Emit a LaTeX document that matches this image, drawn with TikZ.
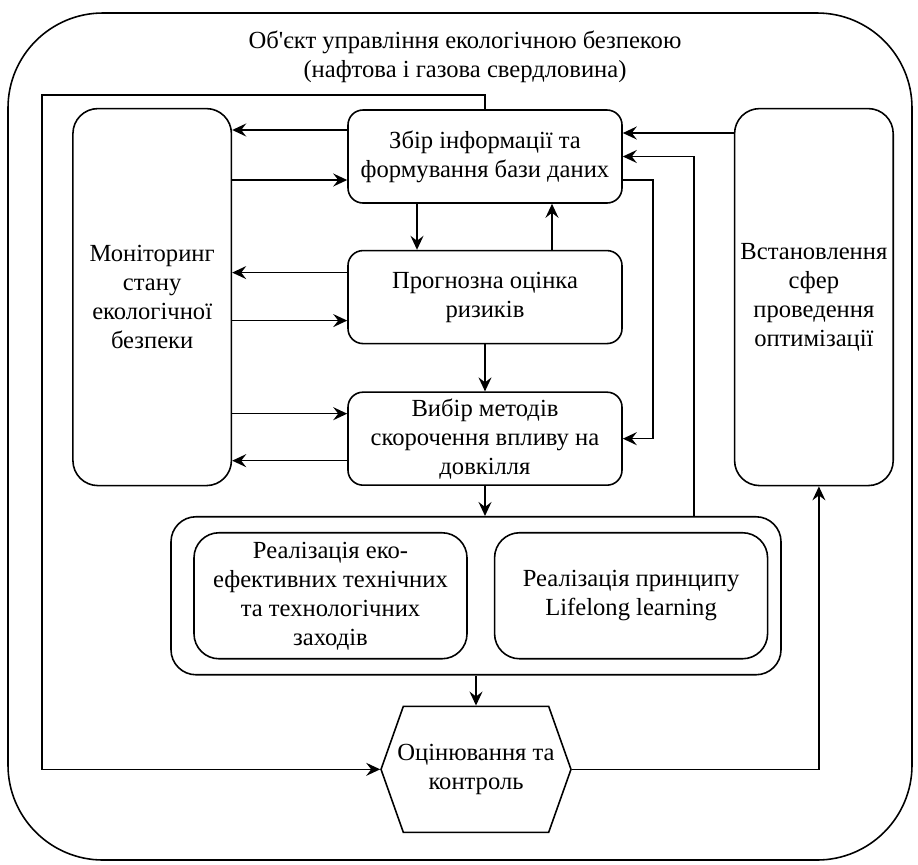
\documentclass[tikz,border=0pt]{standalone}
\usepackage{fontspec}
\setmainfont{Liberation Serif}
\usepackage{tikz}
\usetikzlibrary{shapes.symbols,arrows.meta}
\usetikzlibrary{positioning}
\tikzstyle{arrow} = [line width=0.9pt,->,>={Stealth[length=2.8mm,width=2.6mm,inset=1mm]}]
\tikzstyle{stage} = [
    rectangle, rounded corners=0.3cm, minimum width=5.48cm, minimum height=1.86cm,
    align=center, draw=black, line width=0.9pt]
\tikzstyle{sidebox} = [
    rectangle, rounded corners=0.5cm, minimum width=3.17cm, minimum height=7.54cm,
    align=center, draw=black, line width=0.9pt]
\tikzstyle{group} = [
    rectangle, rounded corners=0.5cm, minimum width=12.2cm, minimum height=3.16cm,
    draw=black, line width=0.9pt]
\tikzstyle{measure} = [
    rectangle, rounded corners=0.5cm, minimum width=5.46cm, minimum height=2.52cm,
    align=center, draw=black, line width=0.9pt]
\tikzstyle{hexa} = [
    signal, signal to=east and west, signal pointer angle=141,
    minimum width=3.54cm, minimum height=2.52cm, inner ysep=1pt, inner xsep=-3.4pt,
    align=center, draw=black, line width=0.9pt]

\begin{document}
\begin{tikzpicture}[font=\fontsize{14}{16.5}\selectfont]
\useasboundingbox (0,0) rectangle (18.36,-17.28);

\node (obj) [rectangle, rounded corners=1.9cm, minimum width=18.08cm, minimum height=16.94cm,
    draw=black, line width=0.9pt] at (9.2,-8.73) {};
\node (title) [align=center] at ([xshift=0.1cm,yshift=-0.9cm]obj.north) {
    Об\textquotesingle єкт управління екологічною безпекою \\
    (нафтова і газова свердловина)
};

\node (zbir) [stage] at (9.7,-3.13) {
    Збір інформації та \\
    формування бази даних
};

\node (prognoz) [stage, below=0.92cm of zbir] {
    Прогнозна оцінка \\
    ризиків
};

\node (vibir) [stage, below=0.94cm of prognoz] {
    Вибір методів \\
    скорочення впливу на \\
    довкілля
};

\node (monitor) [sidebox, left=2.3cm of prognoz] {
    Моніторинг \\
    стану \\
    екологічної \\
    безпеки
};

\node (optim) [sidebox, right=2.22cm of prognoz] {
    Встановлення \\
    сфер \\
    проведення \\
    оптимізації
};

\node (realiz) [group, below=0.6cm of vibir, xshift=-0.18cm] {};

\node (ekoeff) [measure, right=0.46cm of realiz.west] {
    Реалізація еко- \\
    ефективних технічних \\
    та технологічних \\
    заходів
};

\node (lifelong) [measure, right=0.52cm of ekoeff] {
    Реалізація принципу \\
    Lifelong learning
};

\node (control) [hexa, below=0.6cm of realiz] {
    Оцінювання та \\
    контроль
};

% links with the monitoring block
\draw [arrow] ([yshift=0.53cm]zbir.west) -- ([yshift=0.53cm]zbir.west -| monitor.east);
\draw [arrow] ([yshift=-0.47cm]zbir.west -| monitor.east) -- ([yshift=-0.47cm]zbir.west);
\draw [arrow] ([yshift=0.49cm]prognoz.west) -- ([yshift=0.49cm]prognoz.west -| monitor.east);
\draw [arrow] ([yshift=-0.47cm]prognoz.west -| monitor.east) -- ([yshift=-0.47cm]prognoz.west);
\draw [arrow] ([yshift=0.5cm]vibir.west -| monitor.east) -- ([yshift=0.5cm]vibir.west);
\draw [arrow] ([yshift=-0.44cm]vibir.west) -- ([yshift=-0.44cm]vibir.west -| monitor.east);

% central chain
\draw [arrow] ([xshift=-1.36cm]zbir.south) -- ([xshift=-1.36cm]zbir.south |- prognoz.north);
\draw [arrow] ([xshift=1.34cm]prognoz.north) -- ([xshift=1.34cm]prognoz.north |- zbir.south);
\draw [arrow] (prognoz.south) -- (vibir.north);
\draw [arrow] ([yshift=-0.47cm]zbir.east) -- ++(0.6cm,0) |- (vibir.east);
\draw [arrow] (vibir.south) -- (vibir.south |- realiz.north);
\draw [arrow] (realiz.south) -- (realiz.south |- control.north);

% right side and feedback
\draw [arrow] ([yshift=0.47cm]zbir.east -| optim.west) -- ([yshift=0.47cm]zbir.east);
\draw [arrow] ([xshift=4.36cm]realiz.north) |- (zbir.east);
\draw [arrow] (control.east) -| ([xshift=0.1cm]optim.south);
\draw [arrow] (zbir.north) -- ++(0,0.28cm) -| ([xshift=0.7cm]obj.west) |- (control.west);
\end{tikzpicture}
\end{document}
